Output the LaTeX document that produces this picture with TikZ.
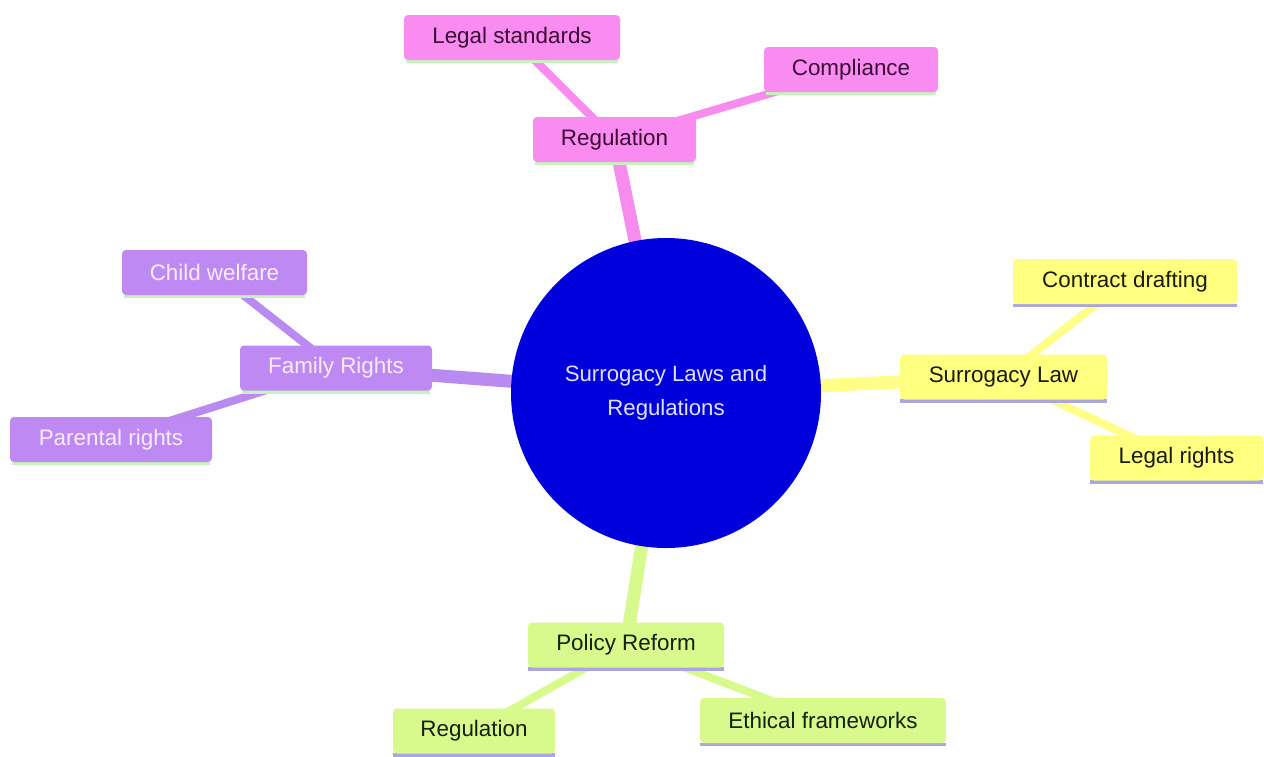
\documentclass[tikz,border=0pt]{standalone}
\usepackage{fontspec}
\setmainfont{Liberation Sans}
\usetikzlibrary{backgrounds}
\definecolor{pinkfill}{HTML}{FA8BF0}
\definecolor{pinkline}{HTML}{F78BEE}
\definecolor{pinktext}{HTML}{3A0C34}
\definecolor{purplefill}{HTML}{BF89F3}
\definecolor{purpleline}{HTML}{B98AF0}
\definecolor{purpletext}{HTML}{F6EEFF}
\definecolor{yellowfill}{HTML}{FFFF80}
\definecolor{yellowline}{HTML}{FFFF88}
\definecolor{yellowtext}{HTML}{1A1A08}
\definecolor{greenfill}{HTML}{D8F98C}
\definecolor{greenline}{HTML}{D8F98C}
\definecolor{greentext}{HTML}{14200A}
\definecolor{centerfill}{HTML}{0000DC}
\definecolor{centertext}{HTML}{E0E0FF}
\definecolor{ulgreen}{HTML}{C6F2BE}
\definecolor{ullav}{HTML}{ABA6E2}
\tikzset{
  box/.style={rectangle, rounded corners=2pt, inner sep=0pt, minimum height=22.5pt,
    font=\fontsize{11.2}{13}\selectfont},
  pinkbox/.style={box, fill=pinkfill, text=pinktext},
  purplebox/.style={box, fill=purplefill, text=purpletext},
  yellowbox/.style={box, fill=yellowfill, text=yellowtext},
  greenbox/.style={box, fill=greenfill, text=greentext},
  mainlink/.style={line width=6.5pt},
  sublink/.style={line width=4pt},
  ulline/.style={line width=1.8pt},
}
\begin{document}
\begin{tikzpicture}[x=0.5pt,y=-0.5pt]
\useasboundingbox (0,0) rectangle (1264,756);

% center
\node[circle, fill=centerfill, minimum size=155pt, inner sep=0pt, text=centertext,
  align=center, font=\fontsize{11.1}{17}\selectfont] (c) at (666,393)
  {Surrogacy Laws and\\Regulations};

% pink branch
\node[pinkbox, minimum width=81.5pt] (reg) at (614.5,139.5) {Regulation};
\node[pinkbox, minimum width=108pt] (ls) at (512,37.5) {Legal standards};
\node[pinkbox, minimum width=87pt] (comp) at (851,69.5) {Compliance};

% purple branch
\node[purplebox, minimum width=96pt] (fr) at (336,368) {Family Rights};
\node[purplebox, minimum width=92.5pt] (cw) at (214.5,272.5) {Child welfare};
\node[purplebox, minimum width=101pt] (pr) at (111,439.5) {Parental rights};

% yellow branch
\node[yellowbox, minimum width=103.5pt] (sl) at (1003.5,377) {Surrogacy Law};
\node[yellowbox, minimum width=112pt] (cd) at (1125,281.5) {Contract drafting};
\node[yellowbox, minimum width=86.5pt] (lr) at (1176.5,458) {Legal rights};

% green branch
\node[greenbox, minimum width=98pt] (pf) at (626,645) {Policy Reform};
\node[greenbox, minimum width=81pt] (rg2) at (474,731) {Regulation};
\node[greenbox, minimum width=123pt] (ef) at (823,720.5) {Ethical frameworks};

\begin{scope}[on background layer]
  \draw[pinkline, mainlink] (c.center) -- (reg.center);
  \draw[pinkline, sublink] (reg.center) -- (ls.center);
  \draw[pinkline, sublink] (reg.center) -- (comp.center);
  \draw[purpleline, mainlink] (c.center) -- (fr.center);
  \draw[purpleline, sublink] (fr.center) -- (cw.center);
  \draw[purpleline, sublink] (fr.center) -- (pr.center);
  \draw[yellowline, mainlink] (c.center) -- (sl.center);
  \draw[yellowline, sublink] (sl.center) -- (cd.center);
  \draw[yellowline, sublink] (sl.center) -- (lr.center);
  \draw[greenline, mainlink] (c.center) -- (pf.center);
  \draw[greenline, sublink] (pf.center) -- (rg2.center);
  \draw[greenline, sublink] (pf.center) -- (ef.center);
  % underlines
  \foreach \n in {reg,ls,comp,fr,cw,pr}{
    \draw[ulgreen, ulline] ([xshift=1pt,yshift=-0.5pt]\n.south west) -- ([xshift=-1pt,yshift=-0.5pt]\n.south east);
  }
  \foreach \n in {sl,cd,lr,pf,rg2,ef}{
    \draw[ullav, ulline] ([yshift=-0.5pt]\n.south west) -- ([yshift=-0.5pt]\n.south east);
  }
\end{scope}
\end{tikzpicture}
\end{document}
